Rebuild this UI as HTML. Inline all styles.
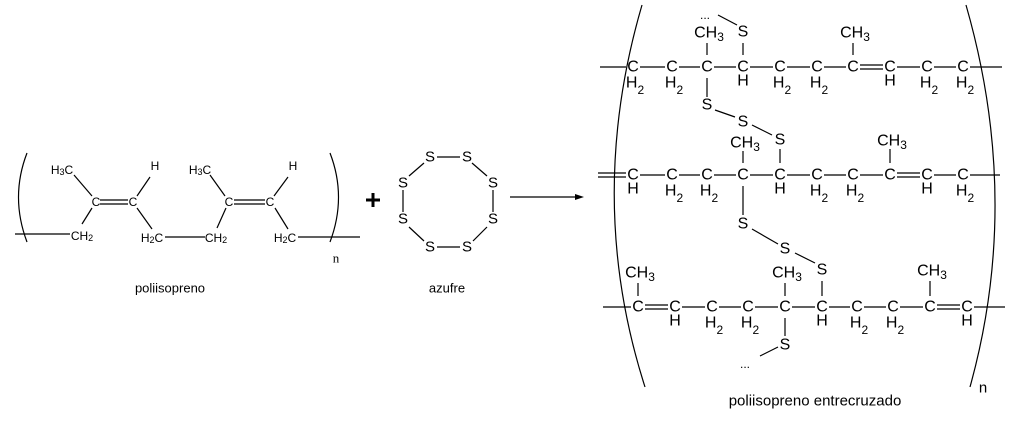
<!DOCTYPE html>
<html><head><style>html,body{margin:0;padding:0;background:#fff}svg{display:block}</style></head><body>
<svg width="1024" height="421" viewBox="0 0 1024 421" xmlns="http://www.w3.org/2000/svg" font-family="Liberation Sans, sans-serif" fill="#000">
<g stroke="#000" stroke-width="1.2" fill="none">
<path d="M27,153 Q10,197 27,242"/><path d="M330,153 Q347,197 330,242"/>
<line x1="15" y1="234" x2="70" y2="234"/>
<line x1="82" y1="224" x2="92" y2="208"/><line x1="92" y1="196" x2="74" y2="175"/>
<line x1="100" y1="200" x2="128" y2="200"/><line x1="100" y1="204" x2="128" y2="204"/>
<line x1="137" y1="196" x2="150" y2="177"/><line x1="137" y1="208" x2="152" y2="229"/>
<line x1="165" y1="237" x2="205" y2="237"/>
<line x1="217" y1="228" x2="226" y2="208"/><line x1="225" y1="196" x2="210" y2="175"/>
<line x1="234" y1="200" x2="265" y2="200"/><line x1="234" y1="204" x2="265" y2="204"/>
<line x1="274" y1="196" x2="288" y2="177"/><line x1="275" y1="208" x2="288" y2="229"/>
<line x1="298" y1="237" x2="360" y2="237"/>
<line x1="437" y1="157" x2="460" y2="157"/><line x1="472" y1="163" x2="487" y2="176"/>
<line x1="493" y1="190" x2="493" y2="212"/><line x1="487" y1="227" x2="473" y2="241"/>
<line x1="437" y1="247" x2="460" y2="247"/><line x1="424" y1="241" x2="409" y2="227"/>
<line x1="403" y1="190" x2="403" y2="212"/><line x1="409" y1="176" x2="424" y2="163"/>
<line x1="510" y1="197" x2="575" y2="197"/>
<path d="M642,5 Q585,200 645,387"/><path d="M966,5 Q1022,200 970,387"/>
<line x1="600" y1="67" x2="626" y2="67"/><line x1="640" y1="67" x2="665" y2="67"/><line x1="679" y1="67" x2="700" y2="67"/><line x1="714" y1="67" x2="736" y2="67"/><line x1="750" y1="67" x2="773" y2="67"/><line x1="787" y1="67" x2="810" y2="67"/><line x1="824" y1="67" x2="846" y2="67"/>
<line x1="860" y1="65" x2="883" y2="65"/><line x1="860" y1="69" x2="883" y2="69"/>
<line x1="897" y1="67" x2="920" y2="67"/><line x1="934" y1="67" x2="956" y2="67"/><line x1="970" y1="67" x2="1002" y2="67"/>
<line x1="707" y1="43" x2="707" y2="55"/><line x1="743" y1="43" x2="743" y2="55"/><line x1="853" y1="43" x2="853" y2="55"/>
<line x1="707" y1="78" x2="707" y2="97"/><line x1="718" y1="15" x2="737" y2="25"/>
<line x1="715" y1="110" x2="735" y2="117"/><line x1="752" y1="125" x2="772" y2="135"/>
<line x1="598" y1="173" x2="626" y2="173"/><line x1="598" y1="177" x2="626" y2="177"/>
<line x1="640" y1="175" x2="665" y2="175"/><line x1="679" y1="175" x2="700" y2="175"/><line x1="714" y1="175" x2="736" y2="175"/><line x1="750" y1="175" x2="773" y2="175"/><line x1="787" y1="175" x2="810" y2="175"/><line x1="824" y1="175" x2="846" y2="175"/><line x1="860" y1="175" x2="883" y2="175"/>
<line x1="897" y1="173" x2="920" y2="173"/><line x1="897" y1="177" x2="920" y2="177"/>
<line x1="934" y1="175" x2="956" y2="175"/><line x1="970" y1="175" x2="1000" y2="175"/>
<line x1="743" y1="151" x2="743" y2="163"/><line x1="780" y1="149" x2="780" y2="163"/><line x1="890" y1="149" x2="890" y2="163"/>
<line x1="743" y1="186" x2="743" y2="215"/>
<line x1="752" y1="229" x2="778" y2="244"/><line x1="795" y1="253" x2="815" y2="263"/>
<line x1="603" y1="307" x2="631" y2="307"/>
<line x1="645" y1="305" x2="668" y2="305"/><line x1="645" y1="309" x2="668" y2="309"/>
<line x1="682" y1="307" x2="705" y2="307"/><line x1="719" y1="307" x2="741" y2="307"/><line x1="755" y1="307" x2="778" y2="307"/><line x1="792" y1="307" x2="815" y2="307"/><line x1="829" y1="307" x2="850" y2="307"/><line x1="864" y1="307" x2="886" y2="307"/><line x1="900" y1="307" x2="923" y2="307"/>
<line x1="937" y1="305" x2="960" y2="305"/><line x1="937" y1="309" x2="960" y2="309"/>
<line x1="974" y1="307" x2="1005" y2="307"/>
<line x1="638" y1="283" x2="638" y2="296"/><line x1="785" y1="283" x2="785" y2="296"/><line x1="822" y1="281" x2="822" y2="296"/><line x1="930" y1="281" x2="930" y2="296"/>
<line x1="785" y1="318" x2="785" y2="336"/><line x1="760" y1="356" x2="778" y2="347"/>
</g>
<polygon points="575,194 584,197 575,200"/>
<path d="M366,200 h14 M373,193 v14" stroke="#000" stroke-width="3"/>
<g font-size="12" text-anchor="middle" dominant-baseline="central">
<text x="62" y="170">H<tspan font-size="9" dy="2">3</tspan><tspan dy="-2">C</tspan></text>
<text x="96" y="202">C</text><text x="133" y="202">C</text>
<text x="155" y="166">H</text>
<text x="82" y="236">CH<tspan font-size="9" dy="2">2</tspan></text>
<text x="152" y="238">H<tspan font-size="9" dy="2">2</tspan><tspan dy="-2">C</tspan></text>
<text x="216" y="238">CH<tspan font-size="9" dy="2">2</tspan></text>
<text x="200" y="170">H<tspan font-size="9" dy="2">3</tspan><tspan dy="-2">C</tspan></text>
<text x="229" y="202">C</text><text x="270" y="202">C</text>
<text x="293" y="166">H</text>
<text x="285" y="238">H<tspan font-size="9" dy="2">2</tspan><tspan dy="-2">C</tspan></text>
<text x="336" y="258" font-family="Liberation Serif, serif" font-size="13">n</text>
<text x="170" y="288" font-size="13">poliisopreno</text>
<text x="447" y="288" font-size="13">azufre</text>
</g>
<g font-size="15" text-anchor="middle" dominant-baseline="central">
<text x="430" y="157">S</text><text x="467" y="157">S</text><text x="493" y="183">S</text><text x="493" y="219">S</text><text x="467" y="247">S</text><text x="430" y="247">S</text><text x="403" y="219">S</text><text x="403" y="183">S</text>
</g>
<g font-size="16" text-anchor="middle" dominant-baseline="central">
<text x="633" y="67">C</text><text x="672" y="67">C</text><text x="707" y="67">C</text><text x="743" y="67">C</text><text x="780" y="67">C</text><text x="817" y="67">C</text><text x="853" y="67">C</text><text x="890" y="67">C</text><text x="927" y="67">C</text><text x="963" y="67">C</text>
<text x="635" y="83">H<tspan font-size="12" dy="7">2</tspan></text><text x="674" y="83">H<tspan font-size="12" dy="7">2</tspan></text><text x="743" y="81">H</text><text x="782" y="83">H<tspan font-size="12" dy="7">2</tspan></text><text x="819" y="83">H<tspan font-size="12" dy="7">2</tspan></text><text x="890" y="81">H</text><text x="929" y="83">H<tspan font-size="12" dy="7">2</tspan></text><text x="965" y="83">H<tspan font-size="12" dy="7">2</tspan></text>
<text x="709" y="33">CH<tspan font-size="12" dy="4">3</tspan></text><text x="743" y="32">S</text><text x="855" y="33">CH<tspan font-size="12" dy="4">3</tspan></text>
<text x="705" y="15" font-size="12">...</text>
<text x="707" y="105">S</text><text x="743" y="122">S</text><text x="780" y="140">S</text>
<text x="633" y="175">C</text><text x="672" y="175">C</text><text x="707" y="175">C</text><text x="743" y="175">C</text><text x="780" y="175">C</text><text x="817" y="175">C</text><text x="853" y="175">C</text><text x="890" y="175">C</text><text x="927" y="175">C</text><text x="963" y="175">C</text>
<text x="633" y="189">H</text><text x="674" y="191">H<tspan font-size="12" dy="7">2</tspan></text><text x="709" y="191">H<tspan font-size="12" dy="7">2</tspan></text><text x="780" y="189">H</text><text x="819" y="191">H<tspan font-size="12" dy="7">2</tspan></text><text x="855" y="191">H<tspan font-size="12" dy="7">2</tspan></text><text x="927" y="189">H</text><text x="965" y="191">H<tspan font-size="12" dy="7">2</tspan></text>
<text x="745" y="143">CH<tspan font-size="12" dy="4">3</tspan></text><text x="892" y="141">CH<tspan font-size="12" dy="4">3</tspan></text>
<text x="743" y="224">S</text><text x="785" y="249">S</text>
<text x="638" y="307">C</text><text x="675" y="307">C</text><text x="712" y="307">C</text><text x="748" y="307">C</text><text x="785" y="307">C</text><text x="822" y="307">C</text><text x="857" y="307">C</text><text x="893" y="307">C</text><text x="930" y="307">C</text><text x="967" y="307">C</text>
<text x="675" y="321">H</text><text x="714" y="323">H<tspan font-size="12" dy="7">2</tspan></text><text x="750" y="323">H<tspan font-size="12" dy="7">2</tspan></text><text x="822" y="321">H</text><text x="859" y="323">H<tspan font-size="12" dy="7">2</tspan></text><text x="895" y="323">H<tspan font-size="12" dy="7">2</tspan></text><text x="967" y="321">H</text>
<text x="640" y="273">CH<tspan font-size="12" dy="4">3</tspan></text><text x="787" y="273">CH<tspan font-size="12" dy="4">3</tspan></text><text x="822" y="270">S</text><text x="932" y="271">CH<tspan font-size="12" dy="4">3</tspan></text>
<text x="785" y="345">S</text><text x="745" y="364" font-size="12">...</text>
<text x="983" y="388" font-size="15">n</text>
<text x="815" y="401" font-size="15">poliisopreno entrecruzado</text>
</g>
</svg>
</body></html>
